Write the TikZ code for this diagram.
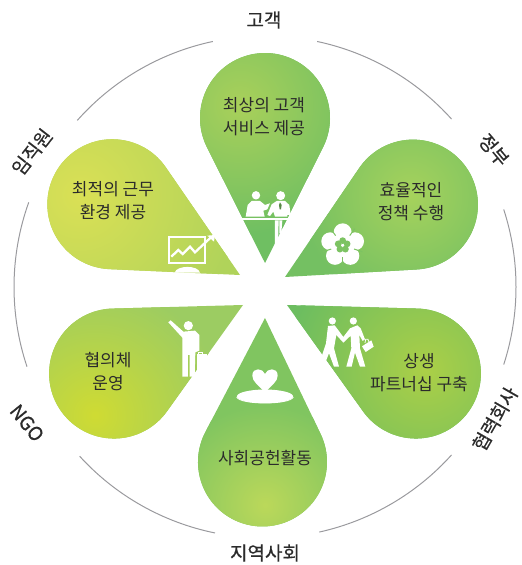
\documentclass[tikz,border=0pt]{standalone}
\usepackage{fontspec}
\setmainfont{Noto Sans CJK KR}
\definecolor{txt}{HTML}{2B2B2B}
\definecolor{ringc}{HTML}{9A9A9E}
\definecolor{A}{HTML}{7CC362}
% tip x, tip y, axis, distance, radius, gradient centre x, y, "inner/outer/R"
\newcommand{\petal}[8]{%
 \pgfmathsetmacro{\ha}{asin(#5/#4)}%
 \pgfmathsetmacro{\tl}{#4*cos(\ha)}%
 \pgfmathsetmacro{\sa}{#3-\ha}%
 \pgfmathsetmacro{\ea}{#3+\ha}%
 \petalcolors#8\relax
 \begin{scope}
  \clip (#1,#2) -- ++(\sa:\tl) arc[start angle=\sa-90,end angle=\ea+90,radius=#5] -- cycle;
  \fill[pout] (0,0) rectangle (522,565);
  \shade[inner color=pin,outer color=pout] (#6,#7) circle[radius=\petalR];
 \end{scope}}
\def\petalcolors#1/#2/#3\relax{\definecolor{pin}{HTML}{#1}\definecolor{pout}{HTML}{#2}\def\petalR{#3}}
\tikzset{
 lab/.style={font=\fontsize{17}{23}\selectfont,text=txt,align=center,inner sep=0pt},
 outer/.style={font=\fontsize{19}{21}\addfontfeature{FakeBold=0.5}\selectfont,text=txt,inner sep=0pt},
 ring/.style={draw=ringc,line width=1pt},
 ico/.style={fill=white,draw=none},
 zoomA/.style={shift={(180,395)},x=0.3333pt,y=-0.3333pt},
 zoomB/.style={shift={(150,345)},x=0.3333pt,y=-0.3333pt},
 zoomC/.style={shift={(300,345)},x=0.3333pt,y=-0.3333pt},
 zoomD/.style={shift={(220,215)},x=0.3333pt,y=-0.3333pt},
}
\begin{document}
\begin{tikzpicture}[x=1pt,y=1pt]
\useasboundingbox (0,0) rectangle (522,565);
% ring arcs
\coordinate (c) at (265,278);
\foreach \s/\e in {78/42,18/-18,-42/-77.5,-101.5/-137.6,-161.5/-199.7,-221.6/-258}{
 \draw[ring] (c) ++(\s:251) arc[start angle=\s,end angle=\e,radius=251];
}
% petals
\petal{265}{302}{90}{145}{65}{240}{460}{A9D05A/6FBF62/130}
\petal{285}{288}{29.5}{147}{65}{410}{370}{A6D25C/74C062/110}
\petal{287}{260}{-28}{146}{65}{425}{195}{ABCF47/6CBD60/140}
\petal{265}{247}{-91}{144}{64.5}{265}{60}{BBD85A/80C560/100}
\petal{243}{260}{-152}{146}{65}{95}{150}{CFDB33/9CCC62/130}
\petal{240}{290}{151}{146}{65}{80}{370}{DAE055/B0D35A/160}
% meeting icon
\begin{scope}[zoomA]
 \fill[ico] (228,76) circle[radius=4.2pt] (302,77) circle[radius=4.5pt];
 \fill[ico] (197,140) -- (203,105) -- (215,93) -- (240,93) -- (255,105) -- (270,100) -- (262,118) -- (250,122) -- (254,140) -- cycle;
 \fill[ico] (262,135) -- (275,103) -- (290,93) -- (315,93) -- (328,105) -- (332,135) -- (322,135) -- (322,140) -- (285,140) -- (280,125) -- (270,138) -- cycle;
 \fill[ico] (185,144) rectangle (332,151);
 \fill[ico] (285,151) -- (307,151) -- (304,190) -- (298,190) -- (298,151) -- (296,151) -- (294,225) -- (285,225) -- cycle;
 \fill[A!70!black] (300,97) -- (305,105) -- (303,118) -- (299,118) -- (297,105) -- cycle;
\end{scope}
% flower icon
\begin{scope}[zoomC]
 \foreach \a in {-90,-18,54,126,198}{
  \fill[ico] ({128+39*cos(\a)},{76+39*sin(\a)}) circle[radius=9pt];
 }
 \fill[ico] (128,76) circle[radius=10pt];
 \foreach \a in {-90,-18,54,126,198}{
  \fill[A] ({128+14*cos(\a)},{76+14*sin(\a)}) circle[radius=3.4pt];
 }
 \fill[ico] (128,76) circle[radius=1.2pt];
 \foreach \a in {-54,18,90,162,234}{
  \draw[A,line width=1pt] ({128+36*cos(\a)},{76+36*sin(\a)}) -- ({128+62*cos(\a)},{76+62*sin(\a)});
 }
\end{scope}
% two men
\begin{scope}[zoomC]
 \fill[ico] (97,303) circle[radius=3.6pt] (160,303) circle[radius=3.6pt];
 \fill[ico] (84,318) -- (104,316) -- (130,351) -- (150,325) -- (172,316) -- (182,325) -- (195,358) -- (188,363) -- (178,345) -- (180,385) -- (196,440) -- (180,440) -- (165,398) -- (155,440) -- (139,440) -- (154,385) -- (152,347) -- (130,368) -- (109,345) -- (102,385) -- (117,440) -- (102,440) -- (87,400) -- (75,430) -- (64,412) -- (78,370) -- cycle;
 \fill[ico] (186,379) -- (214,361) -- (221,380) -- (197,396) -- cycle;
 \draw[white,line width=.8pt] (195,369) -- (197,358) -- (204,358) -- (206,365);
\end{scope}
% chart
\begin{scope}[zoomB]
 \draw[white,line width=2.2pt] (58,51) rectangle (164,130);
 \draw[white,line width=2.3pt] (64,110) -- (85,90) -- (98,102) -- (120,80) -- (135,97) -- (185,50);
 \fill[ico] (172,47) -- (195,45) -- (192,65) -- cycle;
 \fill[ico] (74,158) .. controls (80,135) and (145,135) .. (150,158) -- cycle;
\end{scope}
% man with case
\begin{scope}[zoomB]
 \fill[ico] (115,317) circle[radius=4.6pt];
 \fill[ico] (55,307) -- (62,301) -- (100,335) -- (135,332) -- (148,345) -- (148,392) -- (136,397) -- (134,470) -- (119,470) -- (119,405) -- (114,405) -- (114,470) -- (97,470) -- (97,353) -- cycle;
 \fill[ico] (140,403) rectangle (172,470);
 \draw[white,line width=.7pt] (144,403) -- (144,396) -- (157,396) -- (157,403);
\end{scope}
% heart and dish
\begin{scope}[zoomD]
 \fill[ico] (135,128) .. controls (115,105) and (97,95) .. (97,77) .. controls (97,50) and (130,55) .. (135,72) .. controls (140,55) and (173,50) .. (173,77) .. controls (173,95) and (155,105) .. (135,128) -- cycle;
 \fill[ico] (135,139) ellipse[x radius=28pt,y radius=6.8pt];
 \draw[white,line width=.9pt] (50,141) .. controls (60,165) and (210,165) .. (220,141);
\end{scope}
% texts
\node[outer] (n1) at (264,545) {고객};
\node[outer,rotate=-50] (n2) at (494,415) {정부};
\node[outer,rotate=60] (n3) at (495,146) {협력회사};
\node[outer] (n4) at (265,12) {지역사회};
\node[outer,rotate=-51] (n5) at (27,142) {NGO};
\node[outer,rotate=52] (n6) at (32,413) {임직원};
\node[lab] (t1) at (264,448) {최상의 고객\\서비스 제공};
\node[lab] (t2) at (411,363) {효율적인\\정책 수행};
\node[lab] (t3) at (419,192) {상생\\파트너십 구축};
\node[lab] (t4) at (265,107) {사회공헌활동};
\node[lab] (t5) at (108,193) {협의체\\운영};
\node[lab] (t6) at (113,364) {최적의 근무\\환경 제공};
\end{tikzpicture}
\end{document}
